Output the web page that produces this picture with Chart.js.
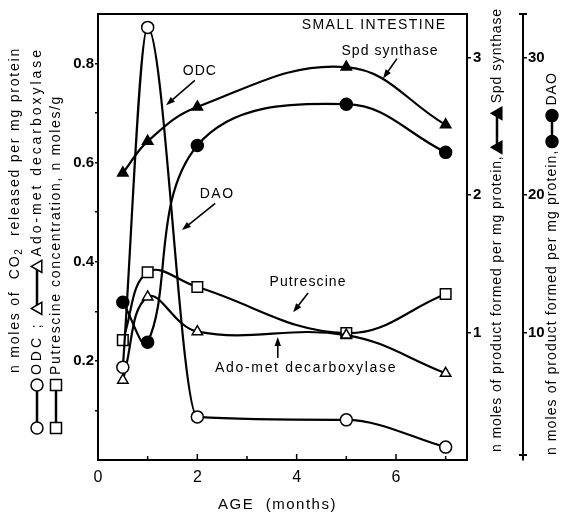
<!DOCTYPE html>
<html>
<head>
<meta charset="utf-8">
<script src="https://cdn.jsdelivr.net/npm/chart.js@4.4.1/dist/chart.umd.min.js"></script>
<style>
  html, body { margin: 0; padding: 0; background: #fff; }
  canvas { display: block; }
</style>
</head>
<body>
<canvas id="chart" width="562" height="512"></canvas>
<script>
// age of the animals, months
const ages = [0.5, 1, 2, 5, 7];

// left axis: nmoles CO2 / mg protein, putrescine nmoles/g
const odc = [0.187, 0.873, 0.087, 0.081, 0.026];
const adoMet = [0.161, 0.329, 0.259, 0.252, 0.175];
const putrescine = [0.242, 0.379, 0.349, 0.256, 0.335];

// right axes: nmoles product / mg protein
const spdSynthase = [2.16, 2.39, 2.64, 2.93, 2.51];
const dao = [12.2, 9.3, 23.6, 26.6, 23.1];

const xTicks = [0, 2, 4, 6];
const xMinorTicks = [1, 3, 5, 7];
const leftTicks = [0.2, 0.4, 0.6, 0.8];
const leftMinorTicks = [0.1, 0.3, 0.5, 0.7];
const spdTicks = [1, 2, 3];
const daoTicks = [10, 20, 30];

// labels inside the plot (months, left axis units)
const notes = [
    { text: 'SMALL INTESTINE', x: 5.56, y: 0.877, w: 145 },
    { text: 'Spd synthase', x: 5.88, y: 0.825, w: 97 },
    { text: 'ODC', x: 2.05, y: 0.784, w: 34 },
    { text: 'DAO', x: 2.40, y: 0.536, w: 35 },
    { text: 'Putrescine', x: 4.23, y: 0.359, w: 77 },
    { text: 'Ado-met decarboxylase', x: 4.19, y: 0.185, w: 182 }
];
const arrows = [
    { from: [1.95, 0.766], to: [1.37, 0.716] },
    { from: [2.36, 0.518], to: [1.69, 0.464] },
    { from: [6.02, 0.810], to: [5.74, 0.770] },
    { from: [4.23, 0.337], to: [3.93, 0.298] },
    { from: [3.62, 0.206], to: [3.62, 0.248] }
];

const FONT = '"Liberation Sans", Arial, sans-serif';

function pts(vals) {
    return vals.map((v, i) => ({ x: ages[i], y: v }));
}

function series(label, vals, axis, style, filled, radius, mode) {
    return {
        label: label,
        data: pts(vals),
        yAxisID: axis,
        borderColor: '#000',
        borderWidth: 2.2,
        pointStyle: style,
        pointRadius: radius,
        pointBorderColor: '#000',
        pointBorderWidth: 1.5,
        pointBackgroundColor: filled ? '#000' : '#fff',
        tension: 0.4,
        cubicInterpolationMode: mode || 'default',
        fill: false
    };
}

function fitText(ctx, text, w) {
    ctx.letterSpacing = '0px';
    const nat = ctx.measureText(text).width;
    ctx.letterSpacing = ((w - nat) / text.length) + 'px';
}

function marker(ctx, kind, x, y, r) {
    ctx.beginPath();
    if (kind === 'circle' || kind === 'dot') {
        ctx.arc(x, y, r, 0, Math.PI * 2);
    } else if (kind === 'rect') {
        ctx.rect(x - r, y - r, 2 * r, 2 * r);
    } else {
        ctx.moveTo(x - r, y + r * 0.8);
        ctx.lineTo(x + r, y + r * 0.8);
        ctx.lineTo(x, y - r * 0.95);
        ctx.closePath();
    }
    const filled = kind === 'dot' || kind === 'triFill';
    ctx.fillStyle = filled ? '#000' : '#fff';
    ctx.fill();
    ctx.lineWidth = 1.5;
    ctx.stroke();
}

// rotated axis title, written bottom to top, with legend samples
function verticalTitle(ctx, cx, yStart, yEnd, runs) {
    const total = yStart - yEnd;
    ctx.save();
    ctx.translate(cx, yStart);
    ctx.rotate(-Math.PI / 2);
    ctx.letterSpacing = '0px';
    let fixed = 0, chars = 0;
    runs.forEach(r => {
        if (r.text !== undefined) {
            ctx.font = (r.sub ? '10px ' : '14px ') + FONT;
            r.nat = ctx.measureText(r.text).width;
            fixed += r.nat;
            chars += r.text.length;
        } else {
            fixed += r.len;
        }
    });
    const ls = (total - fixed) / chars;
    ctx.fillStyle = '#000';
    ctx.strokeStyle = '#000';
    ctx.textBaseline = 'middle';
    ctx.textAlign = 'left';
    let u = 0;
    runs.forEach(r => {
        if (r.text !== undefined) {
            ctx.font = (r.sub ? '10px ' : '14px ') + FONT;
            ctx.letterSpacing = ls + 'px';
            ctx.fillStyle = '#000';
            ctx.fillText(r.text, u, r.sub ? 4 : 0);
            u += r.nat + ls * r.text.length;
        } else {
            if (r.marker) {
                const a = u + 6, b = u + r.len - 6;
                ctx.beginPath();
                ctx.moveTo(a, 0);
                ctx.lineTo(b, 0);
                ctx.lineWidth = 2.5;
                ctx.stroke();
                marker(ctx, r.marker, a, 0, r.marker === 'rect' ? 5.5 : 6);
                marker(ctx, r.marker, b, 0, r.marker === 'rect' ? 5.5 : 6);
            }
            u += r.len;
        }
    });
    ctx.restore();
}

const decor = {
    id: 'decor',
    afterDraw(chart) {
        const ctx = chart.ctx;
        const area = chart.chartArea;
        const sx = chart.scales.x, sy = chart.scales.y, s2 = chart.scales.y2;
        ctx.save();
        ctx.strokeStyle = '#000';
        ctx.fillStyle = '#000';

        // top frame
        ctx.lineWidth = 2;
        ctx.beginPath();
        ctx.moveTo(area.left, area.top);
        ctx.lineTo(area.right, area.top);
        ctx.stroke();

        // inward ticks on the age axis
        ctx.lineWidth = 1.5;
        xTicks.forEach(v => {
            const p = sx.getPixelForValue(v);
            ctx.beginPath(); ctx.moveTo(p, area.bottom); ctx.lineTo(p, area.bottom - 6); ctx.stroke();
        });
        xMinorTicks.forEach(v => {
            const p = sx.getPixelForValue(v);
            ctx.beginPath(); ctx.moveTo(p, area.bottom); ctx.lineTo(p, area.bottom - 4); ctx.stroke();
        });

        // end caps of the DAO axis
        const ax = s2.left;
        ctx.lineWidth = 2;
        [area.top, area.bottom - 5].forEach(yy => {
            ctx.beginPath(); ctx.moveTo(ax - 4, yy); ctx.lineTo(ax + 4, yy); ctx.stroke();
        });

        // notes
        ctx.textAlign = 'center';
        ctx.textBaseline = 'middle';
        notes.forEach(n => {
            ctx.font = '14px ' + FONT;
            fitText(ctx, n.text, n.w);
            ctx.fillText(n.text, sx.getPixelForValue(n.x), sy.getPixelForValue(n.y));
        });
        ctx.letterSpacing = '0px';

        // arrows
        arrows.forEach(a => {
            const x0 = sx.getPixelForValue(a.from[0]), y0 = sy.getPixelForValue(a.from[1]);
            const x1 = sx.getPixelForValue(a.to[0]), y1 = sy.getPixelForValue(a.to[1]);
            const ang = Math.atan2(y1 - y0, x1 - x0);
            ctx.lineWidth = 1.6;
            ctx.beginPath();
            ctx.moveTo(x0, y0);
            ctx.lineTo(x1 - 6 * Math.cos(ang), y1 - 6 * Math.sin(ang));
            ctx.stroke();
            ctx.beginPath();
            ctx.moveTo(x1, y1);
            ctx.lineTo(x1 - 9 * Math.cos(ang) + 3.2 * Math.sin(ang), y1 - 9 * Math.sin(ang) - 3.2 * Math.cos(ang));
            ctx.lineTo(x1 - 9 * Math.cos(ang) - 3.2 * Math.sin(ang), y1 - 9 * Math.sin(ang) + 3.2 * Math.cos(ang));
            ctx.closePath();
            ctx.fill();
        });

        // x axis title
        ctx.font = '15px ' + FONT;
        fitText(ctx, 'AGE  (months)', 119);
        ctx.fillText('AGE  (months)', (area.left + area.right) / 2 - 5, 505);
        ctx.letterSpacing = '0px';
        ctx.restore();

        // axis titles
        verticalTitle(ctx, 15, 373, 47, [
            { text: 'n moles of  CO' }, { text: '2', sub: true }, { text: '  released per mg protein' }
        ]);
        verticalTitle(ctx, 37, 434, 47, [
            { marker: 'circle', len: 55 }, { len: 4 }, { text: 'ODC ; ' },
            { marker: 'triangle', len: 54 }, { len: 4 }, { text: 'Ado-met decarboxylase' }
        ]);
        verticalTitle(ctx, 56, 434, 95, [
            { marker: 'rect', len: 55 }, { len: 4 }, { text: 'Putrescine concentration, n moles/g' }
        ]);
        verticalTitle(ctx, 497, 452, 8, [
            { text: 'n moles of product formed per mg protein,' }, { len: 2 },
            { marker: 'triFill', len: 46 }, { len: 4 }, { text: 'Spd synthase' }
        ]);
        verticalTitle(ctx, 552, 455, 72, [
            { text: 'n moles of product formed per mg protein,' }, { len: 2 },
            { marker: 'dot', len: 38 }, { len: 4 }, { text: 'DAO' }
        ]);
    }
};

function fixedTicks(values) {
    return scale => { scale.ticks = values.map(v => ({ value: v })); };
}

new Chart(document.getElementById('chart'), {
    type: 'line',
    data: {
        datasets: [
            series('ODC', odc, 'y', 'circle', false, 6, 'monotone'),
            series('Ado-met decarboxylase', adoMet, 'y', 'triangle', false, 6),
            series('Putrescine', putrescine, 'y', 'rect', false, 7.5),
            series('Spd synthase', spdSynthase, 'y1', 'triangle', true, 6),
            series('DAO', dao, 'y2', 'circle', true, 6)
        ]
    },
    options: {
        responsive: false,
        animation: false,
        devicePixelRatio: 1,
        events: [],
        layout: { padding: { top: 14, left: 0, right: 0, bottom: 0 } },
        plugins: { legend: { display: false }, tooltip: { enabled: false } },
        scales: {
            x: {
                type: 'linear',
                min: 0,
                max: 7.43,
                afterBuildTicks: fixedTicks(xTicks),
                afterFit: s => { s.height = 52; },
                grid: { display: false, drawTicks: false },
                border: { display: true, color: '#000', width: 2 },
                ticks: { color: '#000', padding: 8, font: { family: FONT, size: 16 } }
            },
            y: {
                position: 'left',
                min: 0,
                max: 0.9,
                afterBuildTicks: fixedTicks(leftMinorTicks.concat(leftTicks).sort()),
                afterFit: s => { s.width = 98; },
                grid: { drawOnChartArea: false, drawTicks: true, tickLength: 3, color: '#000', lineWidth: 1.5 },
                border: { display: true, color: '#000', width: 2 },
                ticks: {
                    color: '#000',
                    padding: 1,
                    font: { family: FONT, size: 15, weight: 'bold' },
                    callback: v => leftTicks.some(t => Math.abs(t - v) < 1e-6) ? v.toFixed(1) : ''
                }
            },
            y1: {
                position: 'right',
                weight: 1,
                min: 0.073,
                max: 3.316,
                afterBuildTicks: fixedTicks(spdTicks),
                afterFit: s => { s.width = 56; },
                grid: { drawOnChartArea: false, drawTicks: true, tickLength: 4, color: '#000', lineWidth: 1.5 },
                border: { display: true, color: '#000', width: 2 },
                ticks: { color: '#000', padding: 2, font: { family: FONT, size: 15, weight: 'bold' } }
            },
            y2: {
                position: 'right',
                weight: 2,
                min: 0.73,
                max: 33.16,
                afterBuildTicks: fixedTicks(daoTicks),
                afterFit: s => { s.width = 39; },
                grid: { drawOnChartArea: false, drawTicks: true, tickLength: 4, color: '#000', lineWidth: 1.5 },
                border: { display: true, color: '#000', width: 2 },
                ticks: { color: '#000', padding: 1, font: { family: FONT, size: 15, weight: 'bold' } }
            }
        }
    },
    plugins: [decor]
});
</script>
</body>
</html>
